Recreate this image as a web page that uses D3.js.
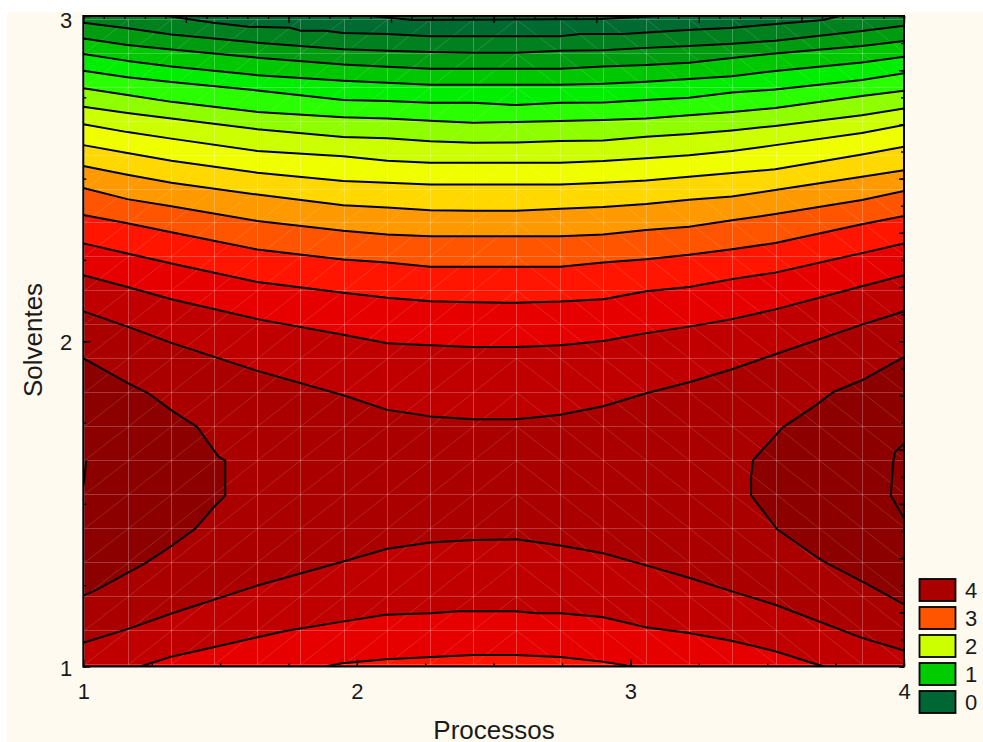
<!DOCTYPE html>
<html><head><meta charset="utf-8">
<script src="https://cdn.jsdelivr.net/npm/d3@7"></script>
<style>html,body{margin:0;padding:0;background:#fff}svg{display:block}text{font-family:"Liberation Sans",Arial,sans-serif;fill:#1a1a1a}</style>
</head><body><div id="chart"></div>
<script>
const xLabelTicks=[1,2,3,4], yLabelTicks=[1,2,3];
const xTitle="Processos", yTitle="Solventes";
const legendLabels=["4","3","2","1","0"];
const legendColors=["#aa0000","#ff5500","#ccff00","#00cc00","#006633"];
// sampling columns (Processos) of the long contours
const columns=[1,1.161,1.322,1.636,1.950,2.111,2.268,2.425,2.582,2.743,2.900,3.057,3.214,3.371,3.529,3.846,4];
// Solventes value of each contour at those columns, top to bottom
const line2=[2.979,2.962,2.943,2.918,2.898,2.893,2.889,2.887,2.887,2.893,2.895,2.902,2.908,2.915,2.924,2.954,2.970];
const line3=[2.931,2.911,2.897,2.872,2.851,2.844,2.838,2.838,2.838,2.838,2.845,2.849,2.856,2.871,2.885,2.908,2.923];
const line4=[2.883,2.862,2.845,2.818,2.801,2.795,2.789,2.789,2.789,2.789,2.792,2.798,2.806,2.815,2.831,2.857,2.875];
const line5=[2.832,2.812,2.797,2.771,2.742,2.739,2.733,2.733,2.726,2.733,2.734,2.742,2.749,2.765,2.774,2.803,2.824];
const line6=[2.778,2.757,2.736,2.705,2.689,2.685,2.678,2.672,2.674,2.677,2.680,2.685,2.695,2.705,2.717,2.754,2.770];
const line7=[2.721,2.702,2.685,2.652,2.628,2.624,2.615,2.610,2.611,2.616,2.617,2.629,2.637,2.648,2.662,2.695,2.716];
const line8=[2.667,2.643,2.623,2.585,2.569,2.555,2.549,2.549,2.549,2.549,2.554,2.563,2.572,2.585,2.603,2.640,2.665];
const line9=[2.603,2.579,2.555,2.518,2.493,2.487,2.482,2.482,2.482,2.482,2.487,2.494,2.506,2.517,2.529,2.574,2.598];
const line10=[2.539,2.512,2.487,2.451,2.418,2.411,2.403,2.401,2.401,2.407,2.413,2.422,2.435,2.445,2.465,2.506,2.526];
const line11=[2.471,2.437,2.415,2.370,2.340,2.328,2.323,2.323,2.323,2.323,2.328,2.342,2.352,2.372,2.391,2.434,2.462];
const line12=[2.388,2.363,2.335,2.282,2.251,2.242,2.229,2.229,2.229,2.229,2.242,2.252,2.266,2.283,2.302,2.360,2.385];
const line13=[2.301,2.270,2.239,2.182,2.149,2.134,2.123,2.120,2.118,2.122,2.129,2.154,2.167,2.191,2.211,2.271,2.301];
const line14=[2.203,2.167,2.129,2.068,2.020,1.994,1.988,1.982,1.982,1.988,2.001,2.025,2.045,2.068,2.098,2.169,2.203];
const line15=[2.092,2.045,1.995,1.909,1.834,1.789,1.769,1.760,1.760,1.774,1.800,1.840,1.874,1.914,1.960,2.051,2.092];
const lowerLine15=[1.073,1.115,1.163,1.249,1.323,1.362,1.381,1.389,1.391,1.372,1.348,1.311,1.273,1.231,1.190,1.088,1.049];
// contours that leave through the frame: [Processos, Solventes]
const line0=[[2.049,3],[2.206,2.988],[2.889,2.991],[3.108,3]];
const line1=[[1.307,3],[1.475,2.979],[1.603,2.967],[1.756,2.964],[1.793,2.955],[1.884,2.955],[1.950,2.948],[2.111,2.945],[2.268,2.938],[2.743,2.938],[2.816,2.945],[2.973,2.945],[3.207,2.957],[3.364,2.963],[3.521,2.975],[3.704,2.988],[3.766,3]];
const lowerLine14=[[1.208,1],[1.325,1.031],[1.475,1.059],[1.636,1.090],[1.738,1.109],[1.946,1.138],[2.104,1.159],[2.268,1.164],[2.367,1.170],[2.579,1.170],[2.659,1.164],[2.743,1.164],[2.896,1.152],[3.054,1.121],[3.207,1.104],[3.364,1.080],[3.529,1.047],[3.667,1.010],[3.711,1]];
const lowerLine13=[[1.884,1],[1.946,1.010],[2.104,1.022],[2.425,1.035],[2.579,1.035],[2.743,1.029],[2.896,1.015],[3.010,1]];
const lobeLeft=[[1,1.948],[1.161,1.872],[1.238,1.840],[1.325,1.786],[1.417,1.736],[1.493,1.646],[1.519,1.632],[1.519,1.526],[1.475,1.488],[1.409,1.424],[1.325,1.372],[1.227,1.318],[1.044,1.234],[1,1.218]];
const lobeRight=[[4,1.952],[3.846,1.880],[3.741,1.844],[3.682,1.806],[3.558,1.736],[3.521,1.702],[3.448,1.634],[3.441,1.583],[3.441,1.526],[3.536,1.422],[3.682,1.336],[3.719,1.317],[3.846,1.262],[4,1.191]];
const smallRight=[[4,1.686],[3.967,1.659],[3.960,1.625],[3.952,1.526],[4,1.455]];
const smallLeft=[[1.011,1.634],[1.001,1.557]];
// band colours
const topColor="#006633";
const upperColors=["#006b30","#00801f","#009c10","#00c800","#00ee00","#2aff00","#8fff00","#ccff00","#f0ff00","#ffd800","#ff9900","#ff5500","#ff1500","#e60000","#c00000","#aa0000"];
const lowerColors=["#c00000","#e60000","#ff1500"];
const lobeColor="#8c0000";

const W=983,H=742;
const svg=d3.select("#chart").append("svg").attr("width",W).attr("height",H);
svg.append("rect").attr("x",7).attr("y",12).attr("width",W-7).attr("height",H-12).attr("fill","#fffaf0");
const x=d3.scaleLinear().domain([1,4]).range([83.3,904]);
const y=d3.scaleLinear().domain([1,3]).range([666.5,16]);
const [x0,x1]=x.domain(),[y0,y1]=y.domain();
const line=d3.line().x(d=>x(d[0])).y(d=>y(d[1]));
const onColumns=vals=>vals.map((v,i)=>[columns[i],v]);

const upper=[line0,line1].concat([line2,line3,line4,line5,line6,line7,line8,line9,line10,line11,line12,line13,line14,line15].map(onColumns));
const lowerFull=onColumns(lowerLine15);
const lower=[lowerFull,lowerLine14,lowerLine13];

svg.append("rect").attr("x",x(x0)).attr("y",y(y1)).attr("width",x(x1)-x(x0)+1.5).attr("height",y(y0)-y(y1)+1.5).attr("fill","#fff");
const defs=svg.append("defs");
defs.append("clipPath").attr("id","plot").append("rect").attr("x",x(x0)).attr("y",y(y1)).attr("width",x(x1)-x(x0)).attr("height",y(y0)-y(y1));
const plot=svg.append("g").attr("clip-path","url(#plot)");
plot.append("rect").attr("x",x(x0)).attr("y",y(y1)).attr("width",x(x1)-x(x0)).attr("height",y(y0)-y(y1)).attr("fill",topColor);
const underCurve=c=>{
  const p=[[x0,y0]];
  if(c[0][0]>x0)p.push([x0,y1]);
  p.push(...c);
  if(c[c.length-1][0]<x1)p.push([x1,y1]);
  p.push([x1,y0]);
  return p;
};
plot.selectAll("path.up").data(upper).join("path").attr("class","up")
  .attr("d",c=>line(underCurve(c))+"Z").attr("fill",(c,i)=>upperColors[i]);
plot.selectAll("path.low").data(lower).join("path").attr("class","low")
  .attr("d",c=>line(c)+"Z").attr("fill",(c,i)=>lowerColors[i]);
// the full-width lower contour closes along the bottom edge
plot.select("path.low").attr("d",line([[x0,y0],...lowerFull,[x1,y0]])+"Z");
plot.selectAll("path.lobe").data([lobeLeft,lobeRight]).join("path").attr("class","lobe")
  .attr("d",c=>line(c)+"Z").attr("fill",lobeColor);

// mesh of the fitted surface
const meshX=d3.range(20).map(i=>Math.round(84.3+43.2*i)+.5);
const meshY=d3.range(20).map(i=>Math.round(18.7+33.96*i)+.5);
const mesh=plot.append("g");
mesh.selectAll("line.v").data(meshX).join("line").attr("class","v")
  .attr("x1",d=>d).attr("x2",d=>d).attr("y1",meshY[0]).attr("y2",meshY[19])
  .attr("stroke","#fff").attr("stroke-opacity",.25).attr("stroke-width",1);
mesh.selectAll("line.h").data(meshY).join("line").attr("class","h")
  .attr("y1",d=>d).attr("y2",d=>d).attr("x1",meshX[0]).attr("x2",meshX[19])
  .attr("stroke","#fff").attr("stroke-opacity",.22).attr("stroke-width",1);
const cells=[];
for(let i=0;i<19;i++)for(let j=0;j<19;j++)cells.push([i,j]);
mesh.selectAll("line.d").data(cells).join("line").attr("class","d")
  .attr("x1",d=>meshX[d[0]]).attr("x2",d=>meshX[d[0]+1])
  .attr("y1",d=>d[0]<10?meshY[d[1]+1]:meshY[d[1]])
  .attr("y2",d=>d[0]<10?meshY[d[1]]:meshY[d[1]+1])
  .attr("stroke","#fff").attr("stroke-opacity",.18).attr("stroke-width",.8);

// contour lines
const allLines=upper.concat(lower,[lobeLeft,lobeRight,smallRight,smallLeft]);
plot.selectAll("path.c").data(allLines).join("path").attr("class","c")
  .attr("d",line).attr("fill","none").attr("stroke","#000").attr("stroke-width",2).attr("stroke-linejoin","round");

// frame
svg.append("rect").attr("x",x(x0)).attr("y",y(y1)).attr("width",x(x1)-x(x0)).attr("height",y(y0)-y(y1))
  .attr("fill","none").attr("stroke","#000").attr("stroke-width",2);

// axes
const styleAxis=g=>{g.select(".domain").remove();g.selectAll("line").attr("stroke","#000").attr("stroke-width",1.4);};
const fmt=d3.format("d");
const ax=(gen,tx,ty,vals,len,labels,pad)=>{
  const a=gen.tickValues(vals).tickSizeOuter(0).tickSizeInner(-len);
  if(labels){a.tickFormat(fmt).tickPadding(pad);}else{a.tickFormat("");}
  const g=svg.append("g").attr("transform",`translate(${tx},${ty})`).call(a).call(styleAxis);
  g.selectAll("text").style("font-size","22px").attr("fill","#1a1a1a");
  g.attr("font-family",null).attr("font-size",null);
  return g;
};
const B=y(y0),L=x(x0),T=y(y1),R=x(x1);
ax(d3.axisBottom(x),0,B,d3.range(1,4.01,.25),3,false);
ax(d3.axisBottom(x),0,B,xLabelTicks,7,true,17);
ax(d3.axisTop(x),0,T,d3.range(1,4.01,.075),3,false);
ax(d3.axisTop(x),0,T,d3.range(1,4.01,.375),7,false);
ax(d3.axisLeft(y),L,0,d3.range(1,3.01,.25),3,false);
const yLab=ax(d3.axisLeft(y),L,0,yLabelTicks,7,true,11);
yLab.selectAll("text").attr("dy",d=>d===3?"11px":"8.5px");
ax(d3.axisRight(y),R,0,d3.range(1,3.01,1/12),3,false);
ax(d3.axisRight(y),R,0,d3.range(1,3.01,1/6),5,false);

svg.append("text").attr("x",494).attr("y",739).attr("text-anchor","middle").style("font-size","26px").text(xTitle);
svg.append("text").attr("transform","translate(42,340) rotate(-90)").attr("text-anchor","middle").style("font-size","26px").text(yTitle);

// legend
const ly=d3.scalePoint().domain(legendLabels).range([590,702]);
const leg=svg.append("g");
leg.selectAll("rect").data(legendLabels).join("rect")
  .attr("x",919.5).attr("width",36).attr("y",d=>ly(d)-11).attr("height",22)
  .attr("fill",(d,i)=>legendColors[i]).attr("stroke","#000").attr("stroke-width",1.8);
leg.selectAll("text").data(legendLabels).join("text")
  .attr("x",965).attr("y",d=>ly(d)+8).style("font-size","22px").text(d=>d);
</script></body></html>
